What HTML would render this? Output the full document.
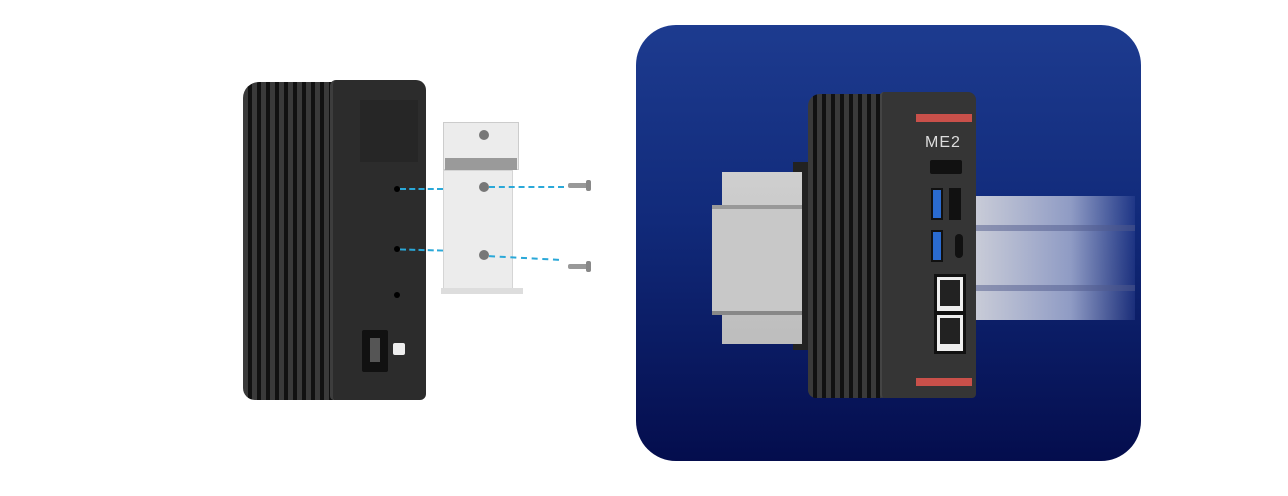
<!DOCTYPE html>
<html><head><style>
body{margin:0;width:1288px;height:496px;background:#fff;position:relative;overflow:hidden;font-family:"Liberation Sans",sans-serif}
div{position:absolute;box-sizing:border-box}
.fins{background:repeating-linear-gradient(90deg,#3a3a3a 0 5px,#111 5px 9px)}
.dash{border-top:2px dashed #2aa8d8;height:0}
</style></head><body>
<!-- left device -->
<div class="fins" style="left:243px;top:82px;width:90px;height:318px;border-radius:16px 0 0 12px"></div>
<div style="left:330px;top:80px;width:96px;height:320px;background:#2c2c2c;border-radius:6px 10px 6px 4px;border-left:3px solid #3d3d3d"></div>
<div style="left:360px;top:100px;width:58px;height:62px;background:#262626"></div>
<div style="left:394px;top:186px;width:6px;height:6px;background:#000;border-radius:50%"></div>
<div style="left:394px;top:246px;width:6px;height:6px;background:#000;border-radius:50%"></div>
<div style="left:394px;top:292px;width:6px;height:6px;background:#000;border-radius:50%"></div>
<div style="left:362px;top:330px;width:26px;height:42px;background:#111;border-radius:2px"></div>
<div style="left:370px;top:338px;width:10px;height:24px;background:#555"></div>
<div style="left:393px;top:343px;width:12px;height:12px;background:#eee;border-radius:2px"></div>
<!-- bracket -->
<div style="left:443px;top:122px;width:76px;height:48px;background:#ececec;border:1px solid #ccc"></div>
<div style="left:445px;top:158px;width:72px;height:12px;background:#9a9a9a"></div>
<div style="left:443px;top:170px;width:70px;height:122px;background:#ececec;border:1px solid #d5d5d5"></div>
<div style="left:441px;top:288px;width:82px;height:6px;background:#ddd"></div>
<div style="left:479px;top:130px;width:10px;height:10px;background:#777;border-radius:50%"></div>
<div style="left:479px;top:182px;width:10px;height:10px;background:#777;border-radius:50%"></div>
<div style="left:479px;top:250px;width:10px;height:10px;background:#777;border-radius:50%"></div>
<div class="dash" style="left:400px;top:188px;width:43px"></div>
<div class="dash" style="left:489px;top:186px;width:75px"></div>
<div class="dash" style="left:400px;top:249px;width:43px;transform:rotate(1.5deg)"></div>
<div class="dash" style="left:489px;top:257px;width:70px;transform:rotate(3deg)"></div>
<div style="left:568px;top:183px;width:22px;height:5px;background:#999;border-radius:2px"></div>
<div style="left:586px;top:180px;width:5px;height:11px;background:#888;border-radius:2px"></div>
<div style="left:568px;top:264px;width:22px;height:5px;background:#999;border-radius:2px"></div>
<div style="left:586px;top:261px;width:5px;height:11px;background:#888;border-radius:2px"></div>
<!-- blue panel -->
<div style="left:636px;top:25px;width:505px;height:436px;border-radius:40px;background:linear-gradient(180deg,#1d3b8f 0%,#112a7a 45%,#040d4d 100%)"></div>
<!-- rails -->
<div style="left:975px;top:196px;width:160px;height:124px;background:linear-gradient(90deg,#c9ccd8,#8f9bc4 60%,rgba(60,80,160,0.3))"></div>
<div style="left:975px;top:225px;width:160px;height:6px;background:rgba(80,90,140,.5)"></div>
<div style="left:975px;top:285px;width:160px;height:6px;background:rgba(80,90,140,.5)"></div>
<div style="left:793px;top:162px;width:20px;height:188px;background:#222"></div>
<div style="left:722px;top:172px;width:80px;height:172px;background:linear-gradient(180deg,#cfcfcf,#bdbdbd)"></div>
<div style="left:712px;top:205px;width:90px;height:110px;background:#c8c8c8;border-top:4px solid #999;border-bottom:4px solid #888"></div>
<!-- right device -->
<div class="fins" style="left:808px;top:94px;width:74px;height:304px;border-radius:12px 0 0 8px"></div>
<div style="left:880px;top:92px;width:96px;height:306px;background:#353535;border-radius:4px 8px 4px 4px;border-left:2px solid #444"></div>
<div style="left:916px;top:114px;width:56px;height:8px;background:#c9504a"></div>
<div style="left:916px;top:378px;width:56px;height:8px;background:#c9504a"></div>
<div style="left:925px;top:134px;color:#ddd;font-size:16px;letter-spacing:1px">ME2</div>
<div style="left:930px;top:160px;width:32px;height:14px;background:#111;border-radius:2px"></div>
<div style="left:931px;top:188px;width:12px;height:32px;background:#2a6bd0;border:2px solid #111"></div>
<div style="left:949px;top:188px;width:12px;height:32px;background:#111"></div>
<div style="left:931px;top:230px;width:12px;height:32px;background:#2a6bd0;border:2px solid #111"></div>
<div style="left:955px;top:234px;width:8px;height:24px;background:#111;border-radius:4px"></div>
<div style="left:934px;top:274px;width:32px;height:40px;background:#eee;border:3px solid #111"></div>
<div style="left:934px;top:312px;width:32px;height:42px;background:#eee;border:3px solid #111"></div>
<div style="left:940px;top:280px;width:20px;height:26px;background:#222"></div>
<div style="left:940px;top:318px;width:20px;height:26px;background:#222"></div>
</body></html>
